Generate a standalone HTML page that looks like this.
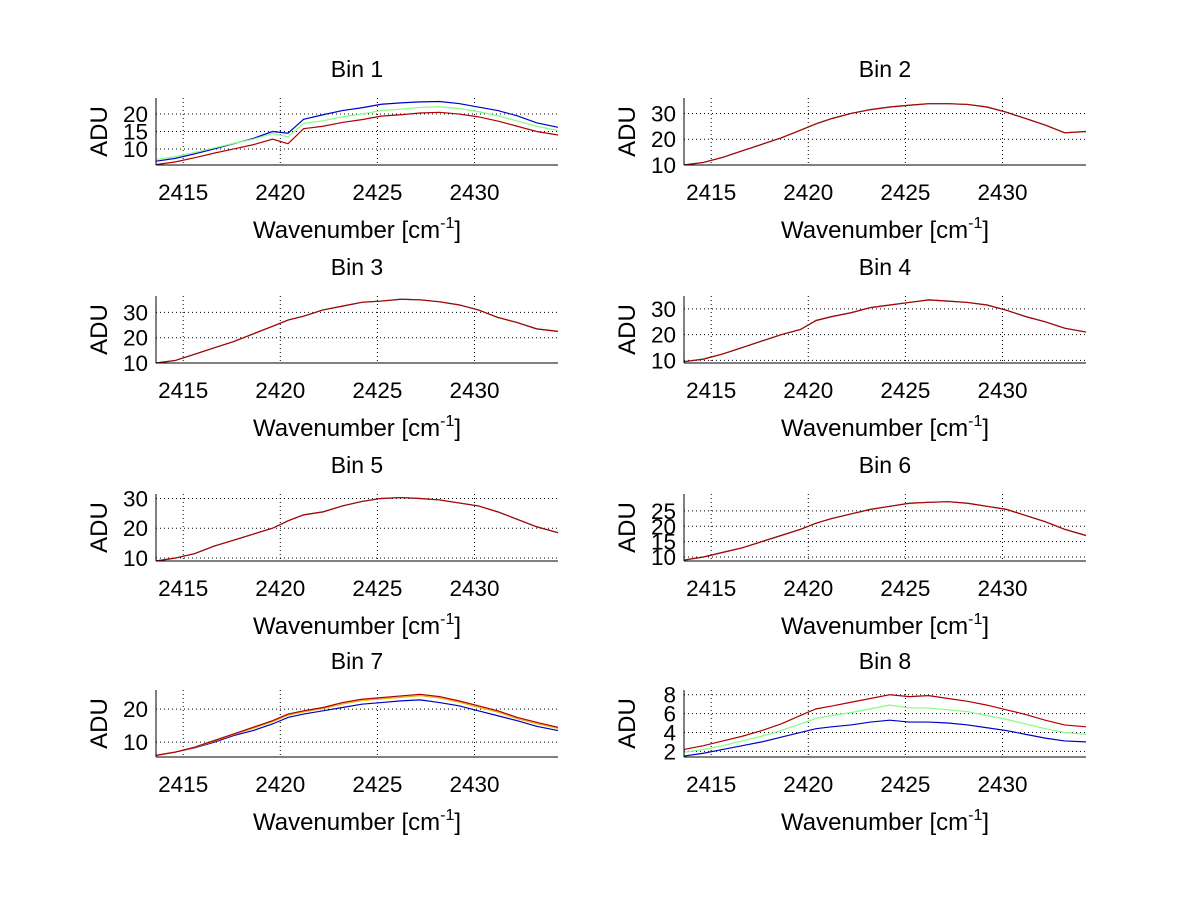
<!DOCTYPE html>
<html><head><meta charset="utf-8"><style>body{margin:0;background:#fff}svg{display:block}text{font-family:"Liberation Sans",sans-serif;fill:#000}</style></head>
<body>
<svg id="fig" width="1200" height="901" xmlns="http://www.w3.org/2000/svg"></svg>
<script>
const xs=[2413.6,2414.6,2415.6,2416.6,2417.6,2418.6,2419.6,2420.4,2421.2,2422.2,2423.2,2424.2,2425.2,2426.2,2427.2,2428.2,2429.2,2430.2,2431.2,2432.2,2433.2,2434.3];
const xTicks=[2415,2420,2425,2430];
const binTitles=["Bin 1","Bin 2","Bin 3","Bin 4","Bin 5","Bin 6","Bin 7","Bin 8"];
const yLims=[[5.4,24.6],[10,36],[10,36.5],[9,35],[9,31.5],[8.7,30.5],[5.5,25.8],[1.4,8.5]];
const yTicks=[[10,15,20],[10,20,30],[10,20,30],[10,20,30],[10,20,30],[10,15,20,25],[10,20],[2,4,6,8]];
const b1Blue=[6.5,7.3,8.6,10,11.5,13,15,14.5,18.5,19.8,21,21.8,22.8,23.2,23.5,23.6,23,22,21,19.5,17.5,16.2];
const b1Green=[7,7.8,9,10.3,11.6,12.8,14.4,13.5,17.3,18.1,19.2,20,21,21.4,21.9,22.1,21.6,20.7,19.5,18,16.5,15.3];
const b1Red=[5.5,6.3,7.5,8.8,10,11.2,12.8,11.5,15.8,16.5,17.6,18.4,19.4,19.8,20.3,20.5,20,19.2,18,16.5,15,14];
const b2=[10,11,13,15.5,18,20.5,23.5,26,28,30,31.5,32.5,33.2,33.8,33.8,33.5,32.5,30.5,28,25.5,22.5,23];
const b3=[10,11,13.5,16,18.5,21.5,24.5,27,28.5,31,32.5,34,34.5,35.2,35,34.2,33,31,28,26,23.5,22.5];
const b4=[9.5,10.5,12.5,15,17.5,20,22,25.5,27,28.5,30.5,31.5,32.5,33.5,33,32.5,31.5,29.5,27,25,22.5,21];
const b5=[9,10,11.5,14,16,18,20,22.5,24.5,25.5,27.5,29,30,30.3,30,29.5,28.5,27.5,25.5,23,20.5,18.5];
const b6=[9,10,11.5,13,15,17,19,21,22.5,24,25.5,26.5,27.5,27.8,28,27.5,26.5,25.5,23.5,21.5,19,17];
const b7Blue=[6,7,8.3,10,12,13.5,15.5,17.5,18.5,19.5,20.5,21.5,22,22.5,22.8,22,21,19.5,18,16.5,14.8,13.5];
const b7Orange=[6,7,8.4,10.3,12.3,14.2,16.2,18.2,19.2,20.2,21.6,22.6,23.1,23.6,24.1,23.4,22.1,20.6,19.1,17.1,15.6,14.2];
const b7Red=[6,7,8.5,10.5,12.5,14.5,16.5,18.5,19.5,20.5,22,23,23.5,24,24.5,23.8,22.5,21,19.5,17.5,16,14.5];
const b8Blue=[1.5,1.8,2.2,2.6,3,3.5,4,4.4,4.6,4.8,5.1,5.3,5.1,5.1,5,4.8,4.5,4.2,3.8,3.4,3.1,3];
const b8Green=[1.9,2.2,2.6,3.1,3.6,4.2,4.9,5.5,5.8,6.1,6.5,6.9,6.6,6.6,6.4,6.2,5.8,5.4,4.9,4.4,4,3.8];
const b8Red=[2.2,2.6,3.1,3.6,4.2,4.9,5.8,6.5,6.8,7.2,7.6,8,7.8,7.9,7.6,7.3,6.9,6.4,5.9,5.3,4.8,4.6];
const binSeries=[
 [[b1Blue,"#0000c8"],[b1Green,"#80ff80"],[b1Red,"#b00000"]],
 [[b2,"#0000c8"],[b2,"#80ff80"],[b2,"#b00000"]],
 [[b3,"#0000c8"],[b3,"#80ff80"],[b3,"#b00000"]],
 [[b4,"#0000c8"],[b4,"#80ff80"],[b4,"#b00000"]],
 [[b5,"#0000c8"],[b5,"#80ff80"],[b5,"#b00000"]],
 [[b6,"#0000c8"],[b6,"#80ff80"],[b6,"#b00000"]],
 [[b7Blue,"#0000c8"],[b7Orange,"#e8b000"],[b7Red,"#b00000"]],
 [[b8Blue,"#0000c8"],[b8Green,"#80ff80"],[b8Red,"#b00000"]]
];
const NS="http://www.w3.org/2000/svg";
const svg=document.getElementById('fig');
function mk(t,a,p){const e=document.createElementNS(NS,t);for(const k in a)e.setAttribute(k,a[k]);(p||svg).appendChild(e);return e;}
const xMin=2413.6,xMax=2434.3;
const colL=[156,684],rowT=[98,296,494,690],H=67,W=402;
binTitles.forEach((title,i)=>{
 const c=i%2,r=Math.floor(i/2);
 const L=colL[c],T=rowT[r],B=T+H,R=L+W;
 const [y0,y1]=yLims[i];
 const sx=v=>L+(v-xMin)/(xMax-xMin)*W;
 const sy=v=>B-(v-y0)/(y1-y0)*H;
 const g=mk('g',{});
 
 
 xTicks.forEach(t=>{
  const ln=mk('line',{x1:sx(t),x2:sx(t),y1:T,y2:B,stroke:'#000','stroke-width':1,'stroke-dasharray':'1,3'},g);
  
  
  const tx=mk('text',{x:sx(t),y:B+35,'font-size':22.5,'text-anchor':'middle'},g);tx.textContent=t;
  
  
 });
 yTicks[i].forEach(t=>{
  const ln=mk('line',{x1:L,x2:R,y1:sy(t),y2:sy(t),stroke:'#000','stroke-width':1,'stroke-dasharray':'1,3'},g);
  
  
  const tx=mk('text',{x:L-8,y:sy(t)+8,'font-size':22.5,'text-anchor':'end'},g);tx.textContent=t;
  
  
 });
 binSeries[i].forEach(([vals,col])=>{
  const pl=mk('polyline',{points:vals.map((v,k)=>sx(xs[k])+','+sy(v)).join(' '),fill:'none',stroke:col,'stroke-width':1.2},g);
  
  
 });
 mk('line',{x1:L,x2:R,y1:B,y2:B,stroke:'#000'},g);
 mk('line',{x1:L,x2:L,y1:T,y2:B,stroke:'#000'},g);
 const tt=mk('text',{x:L+W/2,y:T-21,'font-size':23,'text-anchor':'middle'},g);tt.textContent=title;
 
 
 const xl=mk('text',{x:L+W/2,y:B+73,'font-size':24,'text-anchor':'middle'},g);
 xl.innerHTML='Wavenumber [cm<tspan dy="-10" font-size="16">-1</tspan><tspan dy="10">]</tspan>';
 
 
 const yl=mk('text',{x:0,y:0,'font-size':24,'text-anchor':'middle',transform:`translate(${L-49},${T+H/2}) rotate(-90)`},g);yl.textContent='ADU';
 
 
});
</script>
</body></html>
